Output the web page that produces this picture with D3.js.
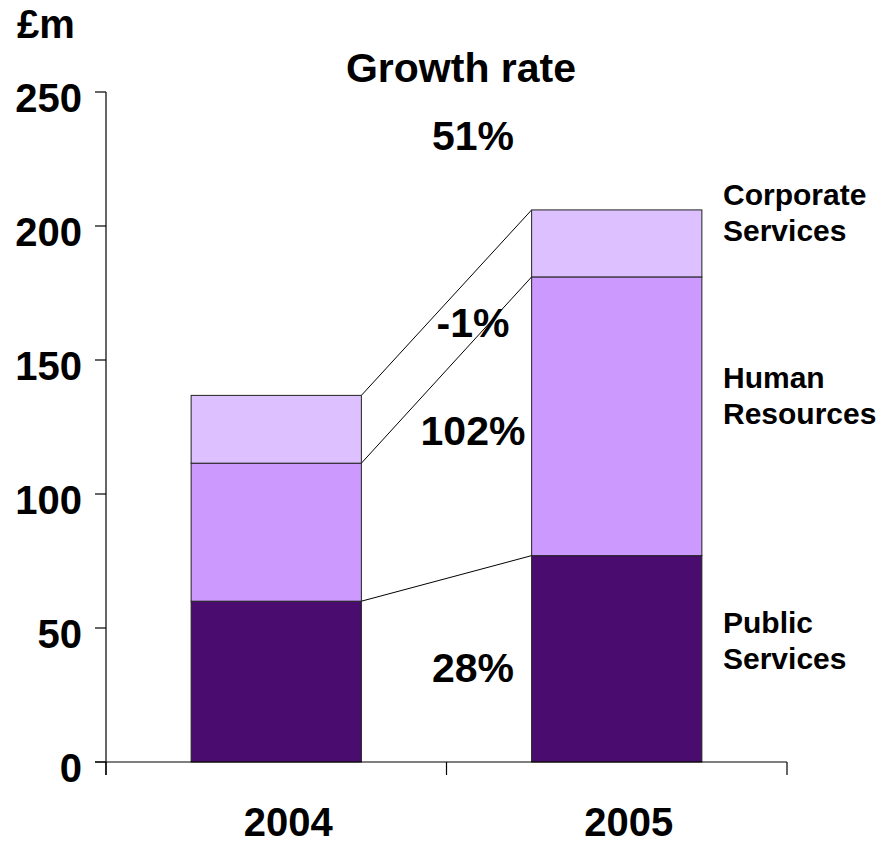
<!DOCTYPE html>
<html>
<head>
<meta charset="utf-8">
<script src="https://cdn.jsdelivr.net/npm/d3@7"></script>
<style>
  body { margin: 0; background: #fff; }
  text { font-family: "Liberation Sans", Arial, sans-serif; font-weight: bold; fill: #000; }
</style>
</head>
<body>
<svg id="chart" width="893" height="847"></svg>
<script>
const years = ["2004", "2005"];
const segments = ["Public Services", "Human Resources", "Corporate Services"];
const publicServices = [60, 77];
const humanResources = [51.5, 104];
const corporateServices = [25.3, 25];
const growthLabels = ["28%", "102%", "-1%"];
const totalGrowth = "51%";
const yTicks = [0, 50, 100, 150, 200, 250];

const colors = ["#4b0c6f", "#cc99ff", "#ddc0ff"];

const svg = d3.select("#chart");

const y = d3.scaleLinear().domain([0, 250]).range([762, 92]);
const x = d3.scaleBand().domain(years).range([106, 787])
    .paddingInner(0.5).paddingOuter(0.25);

// stack the series
const rows = years.map((yr, i) => ({
    year: yr,
    "Public Services": publicServices[i],
    "Human Resources": humanResources[i],
    "Corporate Services": corporateServices[i]
}));
const stacked = d3.stack().keys(segments)(rows);

// connector lines between segment tops
stacked.forEach(layer => {
    svg.append("line")
        .attr("x1", x("2004") + x.bandwidth())
        .attr("y1", y(layer[0][1]))
        .attr("x2", x("2005"))
        .attr("y2", y(layer[1][1]))
        .attr("stroke", "#000")
        .attr("stroke-width", 1);
});

// bars
stacked.forEach((layer, k) => {
    svg.append("g").selectAll("rect")
        .data(layer)
        .join("rect")
        .attr("x", d => x(d.data.year))
        .attr("y", d => y(d[1]))
        .attr("width", x.bandwidth())
        .attr("height", d => y(d[0]) - y(d[1]))
        .attr("fill", colors[k])
        .attr("stroke", "#222")
        .attr("stroke-width", 1);
});

// y axis
const yAxis = svg.append("g");
yAxis.append("line")
    .attr("x1", 106).attr("x2", 106)
    .attr("y1", y(250)).attr("y2", 775)
    .attr("stroke", "#000").attr("stroke-width", 1.2);
yTicks.forEach(t => {
    yAxis.append("line")
        .attr("x1", 95).attr("x2", 106)
        .attr("y1", y(t)).attr("y2", y(t))
        .attr("stroke", "#000").attr("stroke-width", 1.2);
    yAxis.append("text")
        .attr("x", 82).attr("y", y(t) + 20)
        .attr("text-anchor", "end")
        .attr("font-size", 40)
        .text(t);
});

// x axis
const step = x.step();
const x0 = x.range()[0];
svg.append("line")
    .attr("x1", 95).attr("x2", x.range()[1])
    .attr("y1", y(0)).attr("y2", y(0))
    .attr("stroke", "#000").attr("stroke-width", 1.2);
[0, 1, 2].forEach(i => {
    svg.append("line")
        .attr("x1", x0 + i * step).attr("x2", x0 + i * step)
        .attr("y1", y(0)).attr("y2", 775)
        .attr("stroke", "#000").attr("stroke-width", 1.2);
});
years.forEach(yr => {
    svg.append("text")
        .attr("x", x(yr) + x.bandwidth() / 2 + 12)
        .attr("y", 836)
        .attr("text-anchor", "middle")
        .attr("font-size", 40)
        .text(yr);
});

// unit label and title
svg.append("text").attr("x", 17).attr("y", 38).attr("font-size", 40).text("£m");
svg.append("text").attr("x", 461).attr("y", 82).attr("text-anchor", "middle")
    .attr("font-size", 41).text("Growth rate");

// growth labels
svg.append("text").attr("x", 473).attr("y", 150).attr("text-anchor", "middle")
    .attr("font-size", 41).text(totalGrowth);
const growthY = [682, 445, 337];
growthLabels.forEach((g, i) => {
    svg.append("text").attr("x", 473).attr("y", growthY[i])
        .attr("text-anchor", "middle").attr("font-size", 41).text(g);
});

// segment labels on the right
const labelY = [633, 388, 205];
segments.forEach((s, i) => {
    const words = s.split(" ");
    const t = svg.append("text").attr("x", 723).attr("y", labelY[i]).attr("font-size", 30);
    words.forEach((w, j) => {
        t.append("tspan").attr("x", 723).attr("dy", j === 0 ? 0 : 36).text(w);
    });
});
</script>
</body>
</html>
